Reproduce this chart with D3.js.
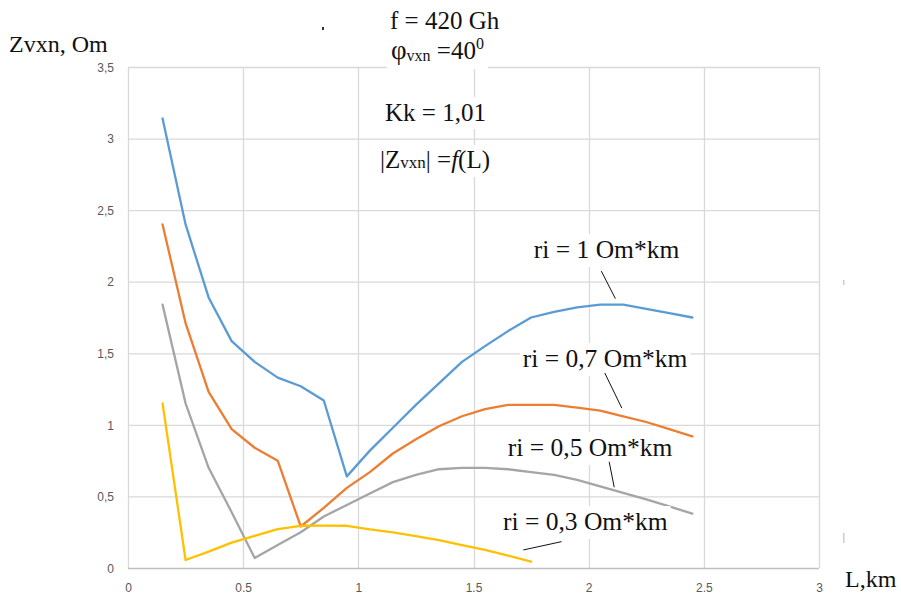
<!DOCTYPE html>
<html>
<head>
<meta charset="utf-8">
<script src="https://cdn.jsdelivr.net/npm/d3@7"></script>
<style>
  html, body { margin: 0; padding: 0; background: #fff; }
  svg { display: block; }
  .serif { font-family: "Liberation Serif", "Times New Roman", serif; fill: #111; }
  .tick-label { font-family: "Liberation Sans", Arial, sans-serif; font-size: 12px; fill: #595959; }
</style>
</head>
<body>
<svg id="chart" width="901" height="595"></svg>
<script>
// Cable length, km
const distanceKm = [0.15, 0.25, 0.35, 0.45, 0.55, 0.65, 0.75, 0.85, 0.95, 1.05, 1.15, 1.25,
                    1.35, 1.45, 1.55, 1.65, 1.75, 1.85, 1.95, 2.05, 2.15, 2.25, 2.35, 2.45];

// |Zvxn|, Om, for each insulation resistance ri
const zRi1  = [3.14, 2.40, 1.89, 1.585, 1.44, 1.33, 1.27, 1.17, 0.64, 0.82, 0.98, 1.14,
               1.29, 1.44, 1.55, 1.655, 1.75, 1.79, 1.82, 1.84, 1.84, 1.81, 1.78, 1.75];
const zRi07 = [2.40, 1.71, 1.23, 0.97, 0.84, 0.75, 0.29, 0.42, 0.56, 0.67, 0.80, 0.90,
               0.99, 1.06, 1.11, 1.14, 1.14, 1.14, 1.12, 1.10, 1.06, 1.02, 0.97, 0.92];
const zRi05 = [1.84, 1.15, 0.70, 0.39, 0.07, 0.16, 0.25, 0.36, 0.44, 0.52, 0.60, 0.65,
               0.69, 0.70, 0.70, 0.69, 0.67, 0.65, 0.615, 0.57, 0.525, 0.48, 0.43, 0.38];
const zRi03 = [1.15, 0.056, 0.114, 0.177, 0.224, 0.272, 0.295, 0.296, 0.295, 0.27, 0.249, 0.222,
               0.195, 0.16, 0.127, 0.087, 0.044];

const seriesNames  = ["ri = 1 Om*km", "ri = 0,7 Om*km", "ri = 0,5 Om*km", "ri = 0,3 Om*km"];
const seriesColors = ["#5b9bd5", "#ed7d31", "#a5a5a5", "#ffc000"];

const xTicks = [0, 0.5, 1, 1.5, 2, 2.5, 3];
const xTickLabels = ["0", "0.5", "1", "1.5", "2", "2.5", "3"];
const yTicks = [0, 0.5, 1, 1.5, 2, 2.5, 3, 3.5];
const yTickLabels = ["0", "0,5", "1", "1,5", "2", "2,5", "3", "3,5"];

// Curve labels: text origin and leader line, in data units (L, Z)
const labelAt    = [[1.762, 2.165], [1.714, 1.404], [1.649, 0.782], [1.628, 0.265]];
const leaderFrom = [[2.055, 2.074], [2.070, 1.362], [2.089, 0.742], [1.716, 0.126]];
const leaderTo   = [[2.116, 1.882], [2.144, 1.117], [2.111, 0.564], [1.882, 0.184]];

const series = [zRi1, zRi07, zRi05, zRi03].map((vals, i) => ({
  name: seriesNames[i],
  color: seriesColors[i],
  points: vals.map((z, j) => ({ L: distanceKm[j], Z: z }))
}));

const svg = d3.select("#chart");
const x = d3.scaleLinear().domain([0, 3]).range([128, 819]);
const y = d3.scaleLinear().domain([0, 3.5]).range([568, 67]);

// Gridlines
const grid = svg.append("g");
grid.selectAll("line.h").data(yTicks.slice(1)).join("line")
  .attr("x1", x(0)).attr("x2", x(3))
  .attr("y1", d => y(d) + 0.5).attr("y2", d => y(d) + 0.5)
  .attr("stroke", "#d9d9d9").attr("stroke-width", 1.3);
grid.selectAll("line.v").data(xTicks).join("line")
  .attr("x1", d => Math.round(x(d)) + 0.5).attr("x2", d => Math.round(x(d)) + 0.5)
  .attr("y1", y(3.5)).attr("y2", y(0))
  .attr("stroke", "#d9d9d9").attr("stroke-width", 1.3);

// Horizontal axis line
svg.append("line")
  .attr("x1", x(0)).attr("x2", x(3))
  .attr("y1", y(0) + 0.5).attr("y2", y(0) + 0.5)
  .attr("stroke", "#bfbfbf").attr("stroke-width", 1.3);

// Tick labels
const xAxis = d3.axisBottom(x).tickValues(xTicks)
  .tickFormat((d, i) => xTickLabels[i]).tickSize(0).tickPadding(0);
const gx = svg.append("g").attr("transform", `translate(0, ${y(0)})`).call(xAxis);
gx.select(".domain").remove();
gx.selectAll("text").attr("class", "tick-label").attr("dy", null).attr("y", 24);

const yAxis = d3.axisLeft(y).tickValues(yTicks)
  .tickFormat((d, i) => yTickLabels[i]).tickSize(0).tickPadding(0);
const gy = svg.append("g").attr("transform", `translate(${x(0) - 14}, 0)`).call(yAxis);
gy.select(".domain").remove();
gy.selectAll("text").attr("class", "tick-label").attr("dy", "0.35em");

// Curves
const line = d3.line().x(d => x(d.L)).y(d => y(d.Z));
svg.append("g").selectAll("path").data(series).join("path")
  .attr("d", d => line(d.points))
  .attr("fill", "none")
  .attr("stroke", d => d.color)
  .attr("stroke-width", 2.3)
  .attr("stroke-linejoin", "round")
  .attr("stroke-linecap", "round");

// Text helper with white backing box
function boxedText(g, xPos, yPos, size, build, pad) {
  const grp = g.append("g");
  const rect = grp.append("rect").attr("fill", "#fff");
  const t = grp.append("text").attr("class", "serif")
    .attr("x", xPos).attr("y", yPos).style("font-size", size + "px");
  build(t);
  const bb = t.node().getBBox();
  rect.attr("x", bb.x - pad[0]).attr("y", bb.y - pad[1])
    .attr("width", bb.width + pad[0] * 2).attr("height", bb.height + pad[1] + pad[2]);
  return grp;
}

const ann = svg.append("g");

// Curve labels and leader lines
series.forEach((s, i) => {
  boxedText(ann, x(labelAt[i][0]), y(labelAt[i][1]), 25.5, t => t.text(s.name), [3, 1, 3]);
  ann.append("line")
    .attr("x1", x(leaderFrom[i][0])).attr("y1", y(leaderFrom[i][1]))
    .attr("x2", x(leaderTo[i][0])).attr("y2", y(leaderTo[i][1]))
    .attr("stroke", "#111").attr("stroke-width", 1);
});

// Titles
boxedText(ann, 390, 29, 25, t => t.text("f = 420 Gh"), [3, 1, 1]);
boxedText(ann, 391, 59, 25, t => {
  t.append("tspan").style("font-size", "27px").text("φ");
  t.append("tspan").style("font-size", "16px").attr("dy", 2).text("vxn");
  t.append("tspan").attr("dy", -2).text(" =40");
  t.append("tspan").style("font-size", "16px").attr("dy", -10).text("0");
}, [4, 0, 4]);
boxedText(ann, 385, 121, 25, t => t.text("Kk = 1,01"), [3, 2, 3]);
boxedText(ann, 380, 168, 25, t => {
  t.append("tspan").text("|Z");
  t.append("tspan").style("font-size", "17px").text("vxn");
  t.append("tspan").text("| =");
  t.append("tspan").style("font-style", "italic").text("f");
  t.append("tspan").text("(L)");
}, [3, 1, 3]);

// Axis titles
ann.append("text").attr("class", "serif").attr("x", 9).attr("y", 52)
  .style("font-size", "24px").text("Zvxn, Om");
ann.append("text").attr("class", "serif").attr("x", 845).attr("y", 587)
  .style("font-size", "24px").text("L,km");

// Small stray marks
ann.append("rect").attr("x", 322).attr("y", 27).attr("width", 2).attr("height", 3).attr("fill", "#333");
ann.append("rect").attr("x", 843).attr("y", 280).attr("width", 1.5).attr("height", 5).attr("fill", "#ccc");
ann.append("rect").attr("x", 843).attr("y", 533).attr("width", 1.5).attr("height", 10).attr("fill", "#ccc");
</script>
</body>
</html>
